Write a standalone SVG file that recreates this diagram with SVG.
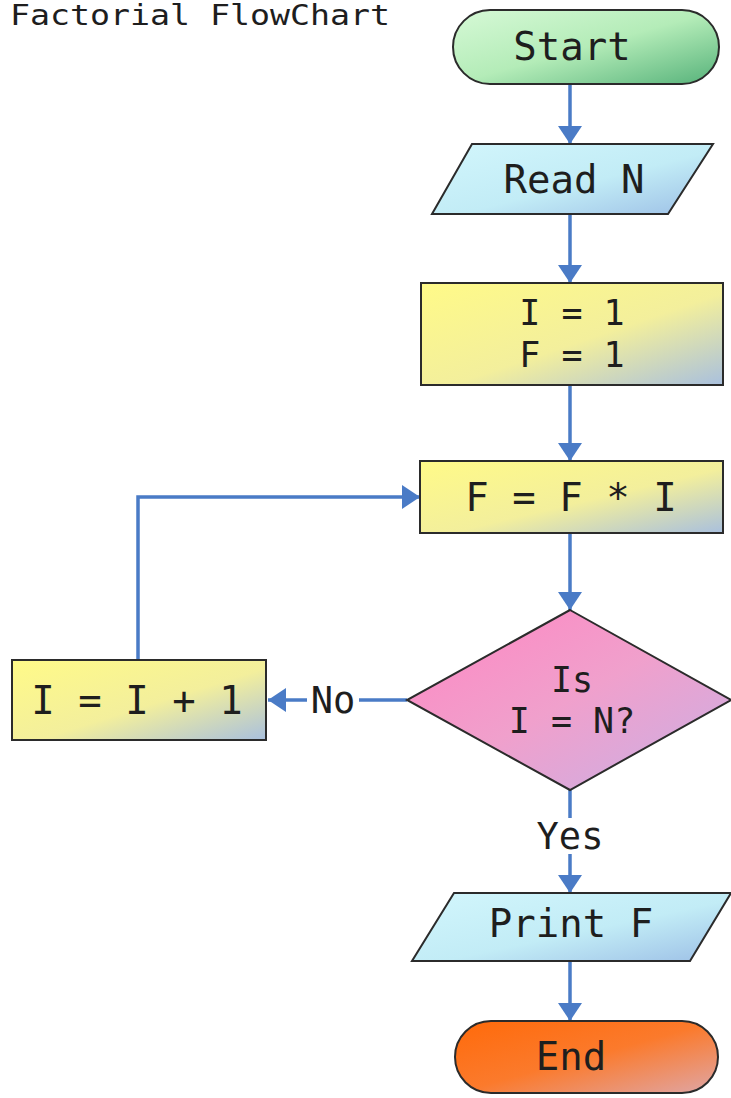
<svg xmlns="http://www.w3.org/2000/svg" width="731" height="1098" viewBox="0 0 731 1098">
<defs>
<linearGradient id="gGreen" x1="0" y1="0" x2="1" y2="1"><stop offset="0" stop-color="#d6f9d6"/><stop offset="0.5" stop-color="#b4ecb8"/><stop offset="1" stop-color="#56b27a"/></linearGradient>
<linearGradient id="gCyan" x1="0" y1="0" x2="1" y2="1"><stop offset="0" stop-color="#d2f6fc"/><stop offset="0.55" stop-color="#c2ecf6"/><stop offset="1" stop-color="#9cbfe6"/></linearGradient>
<linearGradient id="gYellow" x1="0" y1="0" x2="1" y2="1"><stop offset="0" stop-color="#fffa88"/><stop offset="0.55" stop-color="#f3ef9c"/><stop offset="1" stop-color="#a9c0de"/></linearGradient>
<linearGradient id="gPink" x1="0" y1="0" x2="1" y2="1"><stop offset="0" stop-color="#ff86c2"/><stop offset="0.5" stop-color="#f0a0cc"/><stop offset="1" stop-color="#c9b0e6"/></linearGradient>
<linearGradient id="gOrange" x1="0" y1="0" x2="1" y2="1"><stop offset="0" stop-color="#ff6a0a"/><stop offset="0.5" stop-color="#fb7a2c"/><stop offset="1" stop-color="#dfa6a6"/></linearGradient>
<marker id="arr" markerUnits="userSpaceOnUse" markerWidth="24" markerHeight="26" refX="18" refY="12" orient="auto"><path d="M0,0 L18,12 L0,24 Z" fill="#4a7bc6"/></marker>
</defs>
<style>
.shape{stroke:#2b2b2b;stroke-width:2}
.lbl{font-family:"DejaVu Sans Mono","Liberation Mono",monospace;font-size:39px;fill:#1e1e1e;text-anchor:middle;dominant-baseline:central}
.lbl2{font-family:"DejaVu Sans Mono","Liberation Mono",monospace;font-size:35px;fill:#1e1e1e;text-anchor:middle;dominant-baseline:central}
.conn{fill:none;stroke:#4a7bc6;stroke-width:3.5}
.clbl{font-family:"DejaVu Sans Mono","Liberation Mono",monospace;font-size:37px;fill:#1e1e1e;text-anchor:middle;dominant-baseline:central}
</style>
<rect width="731" height="1098" fill="#ffffff"/>
<text x="10" y="25" font-family="DejaVu Sans Mono, Liberation Mono, monospace" font-size="28" fill="#1e1e1e" textLength="380" lengthAdjust="spacingAndGlyphs">Factorial FlowChart</text>

<g id="connectors">
<path class="conn" d="M570,84 L570,144" marker-end="url(#arr)"/>
<path class="conn" d="M570,214 L570,283" marker-end="url(#arr)"/>
<path class="conn" d="M570,385 L570,461" marker-end="url(#arr)"/>
<path class="conn" d="M570,533 L570,610" marker-end="url(#arr)"/>
<path class="conn" d="M407,700 L268,700" marker-end="url(#arr)"/>
<path class="conn" d="M138,660 L138,497 L420,497" marker-end="url(#arr)"/>
<path class="conn" d="M570,790 L570,893" marker-end="url(#arr)"/>
<path class="conn" d="M570,961 L570,1021" marker-end="url(#arr)"/>
<rect x="307" y="682" width="52" height="36" fill="#ffffff"/>
<text class="clbl" x="333" y="700">No</text>
<rect x="532" y="818" width="76" height="36" fill="#ffffff"/>
<text class="clbl" x="570" y="836">Yes</text>
</g>

<g id="start">
<rect class="shape" x="453" y="10" width="266" height="74" rx="37" ry="37" fill="url(#gGreen)"/>
<text class="lbl" x="572" y="46">Start</text>
</g>
<g id="readN">
<polygon class="shape" points="472,144 713,144 668,214 432,214" fill="url(#gCyan)"/>
<text class="lbl" x="574" y="179">Read N</text>
</g>
<g id="init">
<rect class="shape" x="421" y="283" width="302" height="102" fill="url(#gYellow)"/>
<text class="lbl2" x="572" y="313">I = 1</text>
<text class="lbl2" x="572" y="355">F = 1</text>
</g>
<g id="multiply">
<rect class="shape" x="420" y="461" width="303" height="72" fill="url(#gYellow)"/>
<text class="lbl" x="571" y="497">F = F * I</text>
</g>
<g id="decision">
<polygon class="shape" points="570,610 731,700 570,790 407,700" fill="url(#gPink)"/>
<text class="lbl2" x="572" y="680">Is</text>
<text class="lbl2" x="572" y="721">I = N?</text>
</g>
<g id="increment">
<rect class="shape" x="12" y="660" width="254" height="80" fill="url(#gYellow)"/>
<text class="lbl" x="137" y="700">I = I + 1</text>
</g>
<g id="printF">
<polygon class="shape" points="454,893 731,893 690,961 412,961" fill="url(#gCyan)"/>
<text class="lbl" x="571" y="923">Print F</text>
</g>
<g id="end">
<rect class="shape" x="455" y="1021" width="263" height="72" rx="36" ry="36" fill="url(#gOrange)"/>
<text class="lbl" x="571" y="1056">End</text>
</g>
</svg>
